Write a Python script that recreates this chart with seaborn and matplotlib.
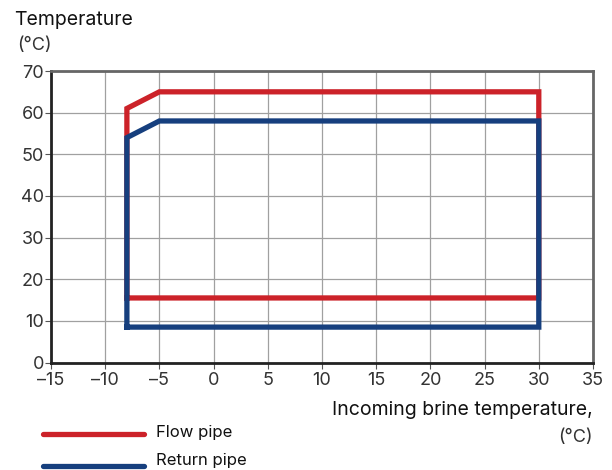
import numpy as np
import pandas as pd
import matplotlib
matplotlib.use("Agg")
import matplotlib.pyplot as plt
import seaborn as sns

# ── Data ─────────────────────────────────────────────────────────────────────
flow_x = [-8, -8, -5, 30, 30, -8]
flow_y = [15.5, 61, 65, 65, 15.5, 15.5]
return_x = [-8, -8, -5, 30, 30, -8]
return_y = [8.5, 54, 58, 58, 8.5, 8.5]
x_ticks = [-15, -10, -5, 0, 5, 10, 15, 20, 25, 30, 35]
y_ticks = [0, 10, 20, 30, 40, 50, 60, 70]

RED = "#cc2229"
BLUE = "#163f7e"

df = pd.concat([
    pd.DataFrame({"x": flow_x, "y": flow_y, "pipe": "Flow pipe"}),
    pd.DataFrame({"x": return_x, "y": return_y, "pipe": "Return pipe"}),
])

sns.set_style("white")
plt.rcParams["font.family"] = ["Inter", "DejaVu Sans"]

fig = plt.figure(figsize=(6.12, 4.70), dpi=100)
# axes box: x -15..35 -> 51..593 px, y 70..0 -> 71..362 px
ax = fig.add_axes([51 / 612, 1 - 362.5 / 470, 542 / 612, 291.5 / 470])

for pipe, color in [("Flow pipe", RED), ("Return pipe", BLUE)]:
    d = df[df["pipe"] == pipe]
    sns.lineplot(x=d["x"].values, y=d["y"].values, sort=False, estimator=None,
                 color=color, lw=3.8, ax=ax, solid_joinstyle="miter",
                 solid_capstyle="projecting", zorder=3)

ax.set_xlim(-15, 35)
ax.set_ylim(0, 70)
ax.set_xticks(x_ticks)
ax.set_yticks(y_ticks)
ax.set_xticklabels([str(t).replace("-", "\u2013") for t in x_ticks])
ax.grid(True, color="#a0a0a0", lw=0.9)
ax.set_axisbelow(True)
ax.tick_params(axis="both", length=4, width=0.8, color="#555555",
               labelsize=13, labelcolor="#333333", direction="out")
ax.tick_params(axis="x", pad=3)
ax.tick_params(axis="y", pad=1)
ax.tick_params(axis="both", bottom=True, left=True)
ax.set_xlabel("")
ax.set_ylabel("")
for side in ["left", "bottom"]:
    ax.spines[side].set_color("#222222")
    ax.spines[side].set_linewidth(2)
for side in ["top", "right"]:
    ax.spines[side].set_color("#666666")
    ax.spines[side].set_linewidth(2)

fig.text(14 / 612, 1 - 20 / 470, "Temperature", fontsize=14, va="center", ha="left", color="#111111")
fig.text(17 / 612, 1 - 46 / 470, "(°C)", fontsize=13, va="center", ha="left", color="#333333")
fig.text(593 / 612, 1 - 410 / 470, "Incoming brine temperature,", fontsize=14,
         va="center", ha="right", color="#111111")
fig.text(593 / 612, 1 - 438 / 470, "(°C)", fontsize=13, va="center", ha="right", color="#333333")

# legend drawn by hand beneath the plot
fig.add_artist(plt.Line2D([43 / 612, 144 / 612], [1 - 434 / 470] * 2, color=RED, lw=3.8,
                          solid_capstyle="round"))
fig.add_artist(plt.Line2D([43 / 612, 144 / 612], [1 - 466 / 470] * 2, color=BLUE, lw=3.8,
                          solid_capstyle="round"))
fig.text(156 / 612, 1 - 432 / 470, "Flow pipe", fontsize=12, va="center", ha="left", color="#111111")
fig.text(156 / 612, 1 - 461 / 470, "Return pipe", fontsize=12, va="center", ha="left", color="#111111")

fig.savefig("out.png", dpi=100, facecolor="white")
